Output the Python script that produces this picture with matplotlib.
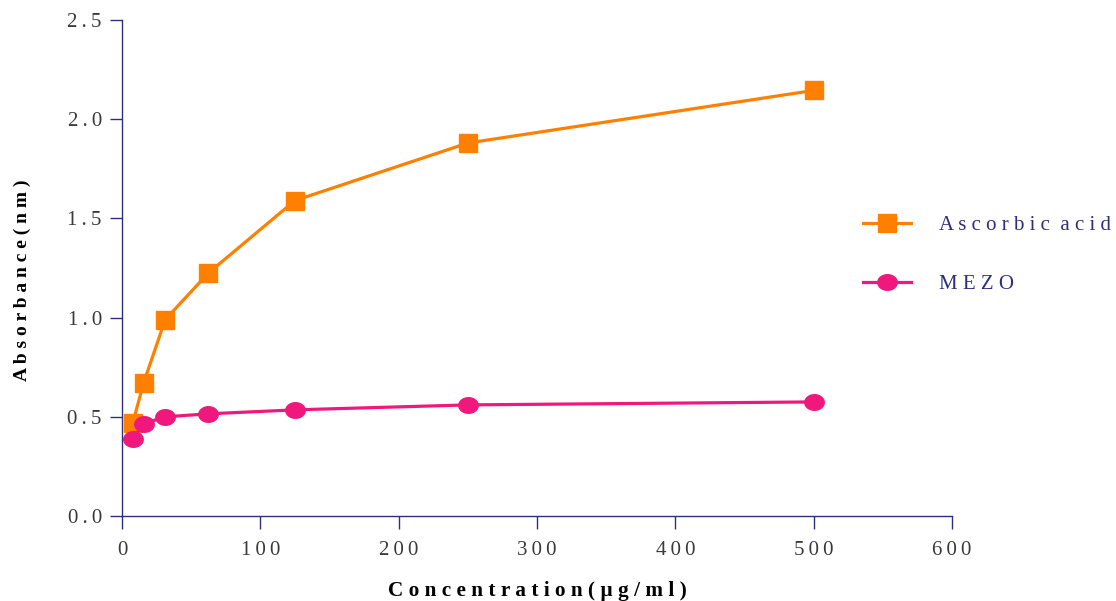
import numpy as np
import matplotlib.pyplot as plt
from matplotlib.path import Path

concentration = [7.8, 15.6, 31.25, 62.5, 125, 250, 500]
ascorbic_acid = [0.47, 0.67, 0.99, 1.225, 1.59, 1.88, 2.145]
mezo = [0.39, 0.465, 0.50, 0.515, 0.535, 0.56, 0.575]

x_ticks = [0, 100, 200, 300, 400, 500, 600]
y_ticks = [0.0, 0.5, 1.0, 1.5, 2.0, 2.5]

NAVY = "#2e2e7e"
ORANGE = "#ff8000"
PINK = "#f0187c"

plt.rcParams['font.family'] = ['Liberation Serif', 'DejaVu Serif']


def spaced(s, sep=" "):
    return sep.join(s)


# slightly flattened circle marker
t = np.linspace(0, 2 * np.pi, 60)
ellipse = Path(np.column_stack([np.cos(t), 0.8 * np.sin(t)]), closed=True)

fig = plt.figure(figsize=(11.16, 6.01), dpi=100)
ax = fig.add_axes([122 / 1116, 1 - 516 / 601, 830 / 1116, 496 / 601])

l1, = ax.plot(concentration, ascorbic_acid, color=ORANGE, lw=2.3,
              marker="s", markersize=12.5, label=spaced("Ascorbic") + "  " + spaced("acid"))
l2, = ax.plot(concentration, mezo, color=PINK, lw=2.3,
              marker=ellipse, markersize=14, label=spaced("MEZO"))

ax.set_xlim(0, 600)
ax.set_ylim(0, 2.5)
ax.set_xticks(x_ticks)
ax.set_xticklabels([spaced(str(v), "\u2009") for v in x_ticks])
ax.set_yticks(y_ticks)
ax.set_yticklabels([spaced(f"{v:.1f}", "\u2009") for v in y_ticks])

for side in ["top", "right"]:
    ax.spines[side].set_visible(False)
for side in ["left", "bottom"]:
    ax.spines[side].set_color(NAVY)
    ax.spines[side].set_linewidth(1.0)
ax.tick_params(direction="out", length=9, width=1.0, color=NAVY,
               labelsize=15, labelcolor="#3a3a3a")
ax.tick_params(axis="x", pad=9)
ax.tick_params(axis="y", pad=5.5)

ax.set_xlabel(spaced("Concentration") + " " + spaced("(µg/ml)"),
              fontsize=15.3, fontweight="bold", labelpad=15)
ax.set_ylabel(spaced("Absorbance") + " " + spaced("(nm)"),
              fontsize=14, fontweight="bold")
ax.yaxis.set_label_coords(-0.1096, 0.476)

leg = fig.legend(handles=[l1, l2], loc="center left",
                 bbox_to_anchor=(844 / 1116, 1 - 255 / 601),
                 frameon=False, fontsize=15, labelspacing=1.9,
                 handlelength=2.3, handletextpad=1.35)
for txt in leg.get_texts():
    txt.set_color(NAVY)

plt.savefig("out.png", dpi=100)
